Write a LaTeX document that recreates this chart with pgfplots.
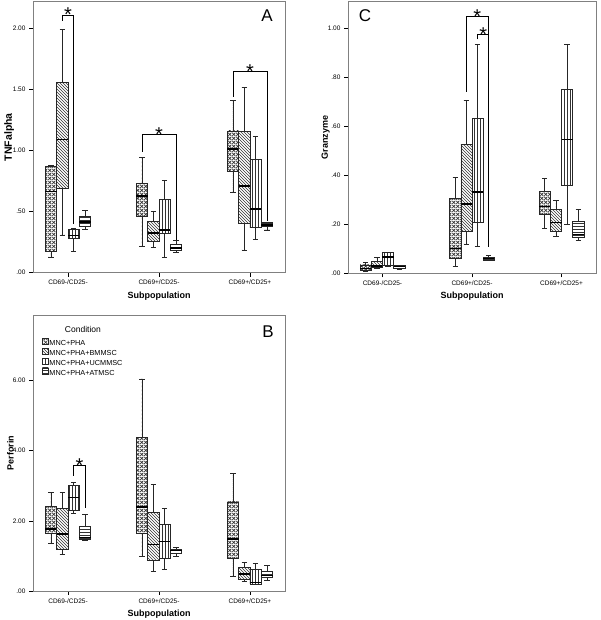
\documentclass[border=0pt]{standalone}
\usepackage{fontspec}
\setmainfont{Liberation Sans}
\usepackage{pgfplots}
\pgfplotsset{compat=1.18}
\usepgfplotslibrary{statistics}
\usetikzlibrary{patterns,patterns.meta}

\tikzdeclarepattern{
  name=bigcross,
  type=uncolored,
  bounding box={(0pt,0pt) and (4pt,4pt)},
  tile size={(4pt,4pt)},
  code={
    \draw[line width=0.8pt] (0pt,0pt) -- (4pt,4pt) (0pt,4pt) -- (4pt,0pt);
  }
}

\pgfplotsset{
  c1/.style={pattern=bigcross, pattern color=black!80},
  c2/.style={pattern=north west lines, pattern color=black!80},
  c3/.style={pattern=vertical lines, pattern color=black!80},
  c4/.style={pattern=horizontal lines, pattern color=black!80},
  bx/.style={forget plot, draw=black!85, line width=0.6pt, solid,
    boxplot/draw direction=y,
    boxplot/box extend=0.125, boxplot/whisker extend=0.06},
  br/.style={forget plot, black, line width=0.6pt, mark=none},
  panel/.style={
    scale only axis,
    xmin=-0.385, xmax=2.385, ymin=0,
    axis line style={draw=black!50, line width=0.9pt},
    xtick={0,1,2},
    xticklabels={CD69-/CD25-, CD69+/CD25-, CD69+/CD25+},
    tick align=outside,
    xtick pos=bottom, ytick pos=left,
    major tick length=4pt,
    tick style={black, line width=0.6pt},
    ticklabel style={font=\fontsize{6.5}{7}\selectfont},
    xlabel={Subpopulation},
    label style={font=\fontsize{9}{9}\selectfont\bfseries},
    xlabel style={at={(axis description cs:0.5,-0.085)}, anchor=center},
    ylabel style={at={(axis description cs:-0.09,0.5)}, anchor=center},
    boxplot/every median/.style={line width=1.6pt, draw=black},
  },
}
\tikzset{
  star/.style={font=\fontsize{20}{20}\selectfont, anchor=base, inner sep=0pt, yshift=-7pt},
  plab/.style={font=\fontsize{17}{17}\selectfont, anchor=center, inner sep=0pt},
}

\begin{document}
\begin{tikzpicture}
\useasboundingbox (0,0) rectangle (600pt,620pt);

% ---------------- Panel A ----------------
\begin{axis}[panel, at={(33pt,347.3pt)}, anchor=south west,
  width=252pt, height=271pt, ymax=2.218,
  ytick={0,0.5,1,1.5,2}, yticklabels={.00,.50,1.00,1.50,2.00},
  ylabel={TNFalpha},
  ylabel style={font=\fontsize{10.5}{10.5}\selectfont\bfseries, at={(axis description cs:-0.095,0.5)}}]
% group 0
\addplot[bx,c1, boxplot prepared={draw position=-0.1875, lower whisker=0.13, lower quartile=0.177, median=0.663, upper quartile=0.87, upper whisker=0.88}] coordinates {};
\addplot[bx,c2, boxplot prepared={draw position=-0.0625, lower whisker=0.31, lower quartile=0.69, median=1.09, upper quartile=1.555, upper whisker=1.99}] coordinates {};
\addplot[bx,c3, boxplot prepared={draw position=0.0625, lower whisker=0.175, lower quartile=0.278, median=0.305, upper quartile=0.355, upper whisker=0.36}] coordinates {};
\addplot[bx,c4, boxplot prepared={draw position=0.1875, lower whisker=0.355, lower quartile=0.377, median=0.417, upper quartile=0.458, upper whisker=0.507}] coordinates {};
% group 1
\addplot[bx,c1, boxplot prepared={draw position=0.8125, lower whisker=0.213, lower quartile=0.458, median=0.628, upper quartile=0.728, upper whisker=0.944}] coordinates {};
\addplot[bx,c2, boxplot prepared={draw position=0.9375, lower whisker=0.207, lower quartile=0.26, median=0.327, upper quartile=0.42, upper whisker=0.50}] coordinates {};
\addplot[bx,c3, boxplot prepared={draw position=1.0625, lower whisker=0.123, lower quartile=0.322, median=0.349, upper quartile=0.60, upper whisker=0.758}] coordinates {};
\addplot[bx,c4, boxplot prepared={draw position=1.1875, lower whisker=0.166, lower quartile=0.18, median=0.20, upper quartile=0.232, upper whisker=0.262}] coordinates {};
% group 2
\addplot[bx,c1, boxplot prepared={draw position=1.8125, lower whisker=0.655, lower quartile=0.827, median=1.01, upper quartile=1.16, upper whisker=1.413}] coordinates {};
\addplot[bx,c2, boxplot prepared={draw position=1.9375, lower whisker=0.186, lower quartile=0.404, median=0.709, upper quartile=1.154, upper whisker=1.517}] coordinates {};
\addplot[bx,c3, boxplot prepared={draw position=2.0625, lower whisker=0.276, lower quartile=0.368, median=0.521, upper quartile=0.928, upper whisker=1.113}] coordinates {};
\addplot[bx,c4, boxplot prepared={draw position=2.1875, lower whisker=0.35, lower quartile=0.378, median=0.39, upper quartile=0.41, upper whisker=0.412}] coordinates {};
% brackets
\addplot[br] coordinates {(-0.0625,2.06) (-0.0625,2.11) (0.0625,2.11) (0.0625,0.40)};
\addplot[br] coordinates {(0.8125,0.99) (0.8125,1.135) (1.1875,1.135) (1.1875,0.27)};
\addplot[br] coordinates {(1.8125,1.44) (1.8125,1.65) (2.1875,1.65) (2.1875,0.42)};
\node[star] at (axis cs:0,2.11) {*};
\node[star] at (axis cs:1,1.135) {*};
\node[star] at (axis cs:2,1.65) {*};
\node[plab] at (rel axis cs:0.929,0.947) {A};
\end{axis}

% ---------------- Panel C ----------------
\begin{axis}[panel, at={(348pt,346.7pt)}, anchor=south west,
  width=248pt, height=271.6pt, ymax=1.109,
  ytick={0,0.2,0.4,0.6,0.8,1.0}, yticklabels={.00,.20,.40,.60,.80,1.00},
  ylabel={Granzyme}]
% group 0
\addplot[bx,c1, boxplot prepared={draw position=-0.1875, lower whisker=0.007, lower quartile=0.011, median=0.019, upper quartile=0.034, upper whisker=0.045}] coordinates {};
\addplot[bx,c2, boxplot prepared={draw position=-0.0625, lower whisker=0.022, lower quartile=0.025, median=0.03, upper quartile=0.049, upper whisker=0.064}] coordinates {};
\addplot[bx,c3, boxplot prepared={draw position=0.0625, lower whisker=0.027, lower quartile=0.031, median=0.067, upper quartile=0.084, upper whisker=0.085}] coordinates {};
\addplot[bx,c4, boxplot prepared={draw position=0.1875, lower whisker=0.018, lower quartile=0.022, median=0.027, upper quartile=0.031, upper whisker=0.034}] coordinates {};
% group 1
\addplot[bx,c1, boxplot prepared={draw position=0.8125, lower whisker=0.027, lower quartile=0.061, median=0.102, upper quartile=0.305, upper whisker=0.39}] coordinates {};
\addplot[bx,c2, boxplot prepared={draw position=0.9375, lower whisker=0.12, lower quartile=0.17, median=0.283, upper quartile=0.527, upper whisker=0.707}] coordinates {};
\addplot[bx,c3, boxplot prepared={draw position=1.0625, lower whisker=0.109, lower quartile=0.208, median=0.332, upper quartile=0.633, upper whisker=0.935}] coordinates {};
\addplot[bx,c4, boxplot prepared={draw position=1.1875, lower whisker=0.054, lower quartile=0.055, median=0.06, upper quartile=0.065, upper whisker=0.075}] coordinates {};
% group 2
\addplot[bx,c1, boxplot prepared={draw position=1.8125, lower whisker=0.184, lower quartile=0.241, median=0.272, upper quartile=0.333, upper whisker=0.388}] coordinates {};
\addplot[bx,c2, boxplot prepared={draw position=1.9375, lower whisker=0.152, lower quartile=0.17, median=0.207, upper quartile=0.261, upper whisker=0.297}] coordinates {};
\addplot[bx,c3, boxplot prepared={draw position=2.0625, lower whisker=0.2, lower quartile=0.358, median=0.547, upper quartile=0.752, upper whisker=0.935}] coordinates {};
\addplot[bx,c4, boxplot prepared={draw position=2.1875, lower whisker=0.133, lower quartile=0.147, median=0.159, upper quartile=0.211, upper whisker=0.261}] coordinates {};
% brackets
\addplot[br] coordinates {(0.9375,0.741) (0.9375,1.048) (1.1875,1.048) (1.1875,0.109)};
\addplot[br] coordinates {(1.0625,0.955) (1.0625,0.976) (1.1875,0.976)};
\node[star] at (axis cs:1.06,1.048) {*};
\node[star] at (axis cs:1.125,0.976) {*};
\node[plab] at (rel axis cs:0.069,0.947) {C};
\end{axis}

% ---------------- Panel B ----------------
\begin{axis}[panel, at={(33pt,29pt)}, anchor=south west,
  width=252pt, height=276pt, ymax=7.87,
  ytick={0,2,4,6}, yticklabels={.00,2.00,4.00,6.00},
  ylabel={Perforin},
  legend style={at={(rel axis cs:0.036,0.916)}, anchor=north west,
    draw=none, fill=none, font=\fontsize{7.3}{7.3}\selectfont,
    row sep=0pt, inner sep=0pt, nodes={inner sep=0.8pt}},
  legend cell align=left,
  legend image code/.code={\draw[#1] (0pt,-0.3pt) rectangle (6pt,5.5pt);}]
\addlegendimage{draw=black!85, line width=0.4pt, c1}
\addlegendentry{MNC+PHA}
\addlegendimage{draw=black!85, line width=0.4pt, c2}
\addlegendentry{MNC+PHA+BMMSC}
\addlegendimage{draw=black!85, line width=0.4pt, c3}
\addlegendentry{MNC+PHA+UCMMSC}
\addlegendimage{draw=black!85, line width=0.4pt, c4}
\addlegendentry{MNC+PHA+ATMSC}
% group 0
\addplot[bx,c1, boxplot prepared={draw position=-0.1875, lower whisker=1.36, lower quartile=1.645, median=1.76, upper quartile=2.405, upper whisker=2.805}] coordinates {};
\addplot[bx,c2, boxplot prepared={draw position=-0.0625, lower whisker=1.046, lower quartile=1.19, median=1.617, upper quartile=2.36, upper whisker=2.805}] coordinates {};
\addplot[bx,c3, boxplot prepared={draw position=0.0625, lower whisker=2.215, lower quartile=2.31, median=2.67, upper quartile=3.02, upper whisker=3.09}] coordinates {};
\addplot[bx,c4, boxplot prepared={draw position=0.1875, lower whisker=1.455, lower quartile=1.47, median=1.52, upper quartile=1.835, upper whisker=2.19}] coordinates {};
% group 1
\addplot[bx,c1, boxplot prepared={draw position=0.8125, lower whisker=0.98, lower quartile=1.645, median=2.387, upper quartile=4.37, upper whisker=6.05}] coordinates {};
\addplot[bx,c2, boxplot prepared={draw position=0.9375, lower whisker=0.57, lower quartile=0.884, median=1.33, upper quartile=2.24, upper whisker=3.04}] coordinates {};
\addplot[bx,c3, boxplot prepared={draw position=1.0625, lower whisker=0.62, lower quartile=0.93, median=1.407, upper quartile=1.90, upper whisker=2.36}] coordinates {};
\addplot[bx,c4, boxplot prepared={draw position=1.1875, lower whisker=0.98, lower quartile=1.07, median=1.15, upper quartile=1.19, upper whisker=1.245}] coordinates {};
% group 2
\addplot[bx,c1, boxplot prepared={draw position=1.8125, lower whisker=0.41, lower quartile=0.93, median=1.49, upper quartile=2.54, upper whisker=3.36}] coordinates {};
\addplot[bx,c2, boxplot prepared={draw position=1.9375, lower whisker=0.265, lower quartile=0.34, median=0.485, upper quartile=0.665, upper whisker=0.81}] coordinates {};
\addplot[bx,c3, boxplot prepared={draw position=2.0625, lower whisker=0.19, lower quartile=0.2, median=0.248, upper quartile=0.627, upper whisker=0.79}] coordinates {};
\addplot[bx,c4, boxplot prepared={draw position=2.1875, lower whisker=0.31, lower quartile=0.38, median=0.437, upper quartile=0.55, upper whisker=0.72}] coordinates {};
% bracket
\addplot[br] coordinates {(0.0625,3.28) (0.0625,3.57) (0.1875,3.57) (0.1875,2.36)};
\node[star] at (axis cs:0.125,3.57) {*};
\node[font=\fontsize{8.5}{9}\selectfont, anchor=center, inner sep=0pt] at (rel axis cs:0.198,0.949) {Condition};
\node[plab] at (rel axis cs:0.933,0.938) {B};
\end{axis}
\end{tikzpicture}
\end{document}
